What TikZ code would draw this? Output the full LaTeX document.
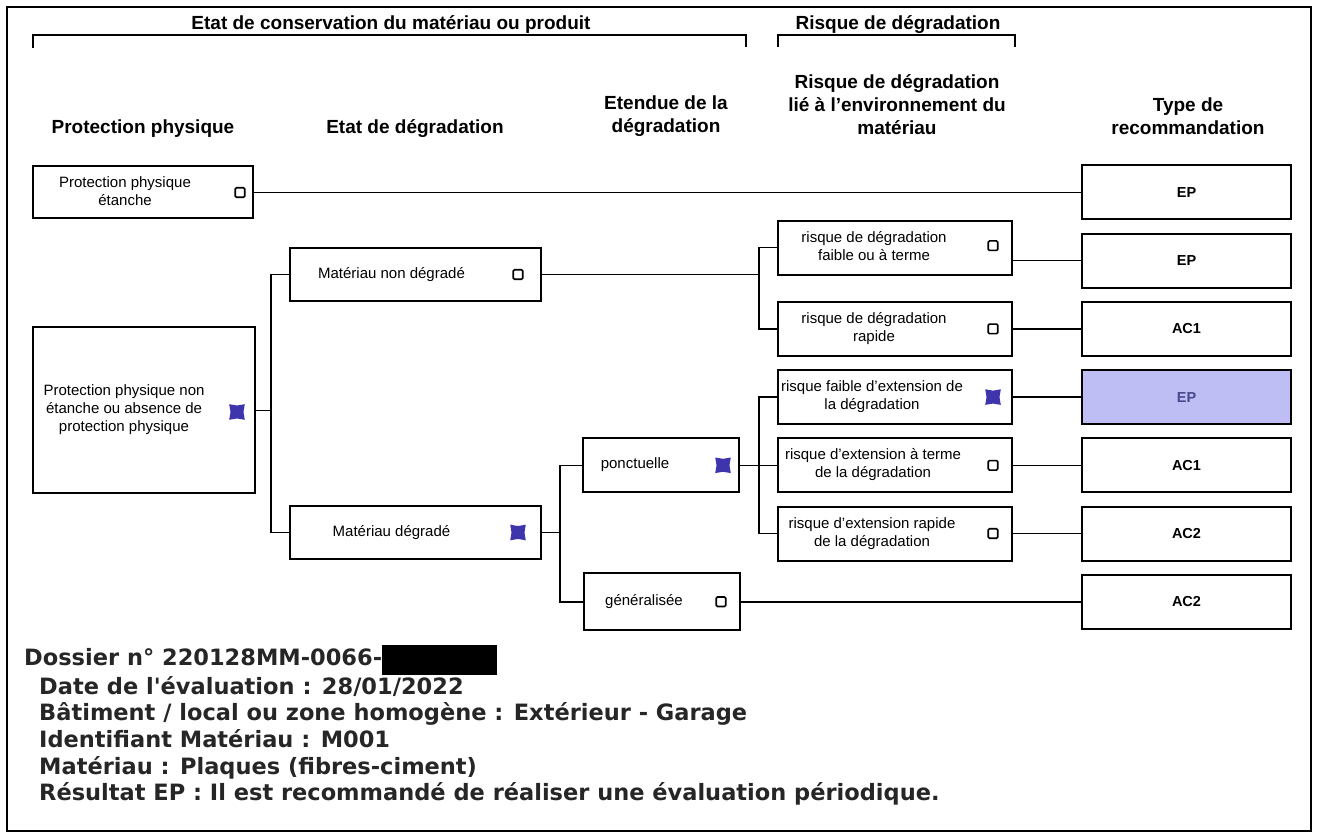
\documentclass[tikz,border=0pt]{standalone}
\usepackage{fontspec}
\setmainfont{Liberation Sans}
\newfontfamily\fichefont{DejaVu Sans}
\usepackage{xcolor}
\usepackage{tikz}
\usetikzlibrary{shapes.geometric,positioning}

\definecolor{coche}{RGB}{62,52,172}
\definecolor{surligne}{RGB}{190,190,245}
\definecolor{pale}{RGB}{72,72,140}
\definecolor{encre}{RGB}{38,38,38}

\newcommand{\optxt}[2][44pt]{\begin{tabular}{@{}c@{}}#2\end{tabular}\hspace*{#1}}

\begin{document}
\begin{tikzpicture}[x=1pt, y=-1pt, node distance=12.2pt]
\tikzset{
titre/.style    = {font=\fontsize{19}{23}\selectfont\bfseries, align=center, inner sep=0pt},
option/.style   = {draw, shape=rectangle, line width=2pt, fill=white, inner sep=0pt, minimum height=54pt, font=\fontsize{15}{18}\selectfont},
risque/.style   = {option, minimum width=234pt},
reco/.style     = {draw, shape=rectangle, line width=2pt, minimum width=209pt, minimum height=54pt, font=\fontsize{14.5}{17}\selectfont\bfseries},
case/.style     = {draw, line width=1.6pt, rounded corners=1.2pt, minimum size=9.5pt, inner sep=0pt},
cochee/.style   = {shape=star, star points=4, star point ratio=1.7, shape border rotate=45, fill=coche, minimum size=22pt, inner sep=0pt},
lien/.style     = {line width=1.6pt},
fin/.style      = {line width=0.8pt},
fiche/.style    = {font=\fichefont\bfseries\fontsize{22.5}{26.6}\selectfont, text=encre, align=left, inner sep=0pt},
}
    \useasboundingbox (0,0) rectangle (1320,834);
    \draw [line width=1.4pt] (7,7) rectangle (1311,831);

    % Group headers
    \node [titre] (conservation) at (391,25) {Etat de conservation du matériau ou produit};
    \node [titre] (degradation)  at (898,25) {Risque de dégradation};
    \draw [lien] (33,48) |- (746,35) -- (746,47);
    \draw [lien] (778,47) |- (1015,35) -- (1015,47);

    % Column headers
    \node [titre] (hprotection) at (143,129)  {Protection physique};
    \node [titre] (hetat)       at (415,129)  {Etat de dégradation};
    \node [titre] (hetendue)    at (666,116)  {Etendue de la\\dégradation};
    \node [titre] (hrisque)     at (897,105)  {Risque de dégradation\\lié à l'environnement du\\matériau};
    \node [titre] (htype)       at (1188,116) {Type de\\recommandation};

    % Recommendations
    \node [reco]                  (recA) at (1186.5,192.5) {EP};
    \node [reco, below=of recA]   (recB) {EP};
    \node [reco, below=of recB]   (recC) {AC1};
    \node [reco, below=of recC, fill=surligne, text=pale] (recD) {EP};
    \node [reco, below=of recD]   (recE) {AC1};
    \node [reco, below=of recE]   (recF) {AC2};
    \node [reco, below=of recF]   (recG) {AC2};

    % Risk boxes
    \node [risque, left=68pt of recB, yshift=13pt] (riskA) {\optxt[42pt]{risque de dégradation\\faible ou à terme}};
    \node [risque, left=68pt of recC] (riskB) {\optxt[42pt]{risque de dégradation\\rapide}};
    \node [risque, left=68pt of recD] (riskC) {\optxt[46pt]{risque faible d'extension de\\la dégradation}};
    \node [risque, left=68pt of recE] (riskD) {\optxt[44pt]{risque d'extension à terme\\de la dégradation}};
    \node [risque, left=68pt of recF] (riskE) {\optxt[46pt]{risque d'extension rapide\\de la dégradation}};

    % Extent
    \node [option, minimum width=156pt, left=37pt of riskD] (ponctuelle) {\optxt[52pt]{ponctuelle}};
    \node [option, minimum width=156pt, minimum height=57pt, left=340pt of recG] (generalisee) {\optxt[36pt]{généralisée}};

    % State and protection
    \node [option, minimum width=251pt, minimum height=53pt] (nondegrade) at (415.5,274.5) {\optxt[48pt]{Matériau non dégradé}};
    \node [option, minimum width=251pt, minimum height=53pt] (degrade)    at (415.5,532.5) {\optxt[48pt]{Matériau dégradé}};
    \node [option, minimum width=220pt, minimum height=52pt] (etanche)    at (143,192.5)   {\optxt[36pt]{Protection physique\\étanche}};
    \node [option, minimum width=222pt, minimum height=166pt] (nonetanche) at (144,410)    {\optxt[40pt]{Protection physique non\\étanche ou absence de\\protection physique}};

    % Check marks
    \node [case]   (etanche-c)     at ([xshift=-14pt]etanche.east) {};
    \node [cochee] (nonetanche-c)  at ([xshift=-19pt,yshift=-2pt]nonetanche.east) {};
    \node [case]   (nondegrade-c)  at ([xshift=-24pt]nondegrade.east) {};
    \node [cochee] (degrade-c)     at ([xshift=-24pt]degrade.east) {};
    \node [cochee] (ponctuelle-c)  at ([xshift=-17pt]ponctuelle.east) {};
    \node [case]   (generalisee-c) at ([xshift=-20pt]generalisee.east) {};
    \node [case]   (riskA-c)       at ([xshift=-20pt,yshift=2pt]riskA.east) {};
    \node [case]   (riskB-c)       at ([xshift=-20pt]riskB.east) {};
    \node [cochee] (riskC-c)       at ([xshift=-20pt]riskC.east) {};
    \node [case]   (riskD-c)       at ([xshift=-20pt]riskD.east) {};
    \node [case]   (riskE-c)       at ([xshift=-20pt]riskE.east) {};

    % Main edges
    \coordinate [left=18pt of nondegrade.west] (j1);
    \coordinate [left=22pt of ponctuelle.west] (j2);
    \coordinate [left=18pt of riskA.west]      (j3);
    \coordinate [left=18pt of riskC.west]      (j4);

    \draw [lien] (etanche) -- (recA);
    \draw [fin]  (nonetanche) -- (nonetanche -| j1);
    \draw [lien] (nondegrade.west) -- (j1) |- (degrade.west);
    \draw [lien] (degrade) -- (degrade -| j2);
    \draw [lien] (ponctuelle.west) -- (j2) |- (generalisee.west);
    \draw [lien] (nondegrade) -- (nondegrade -| j3);
    \draw [lien] (riskA.west) -- (j3) |- (riskB.west);
    \draw [lien] (ponctuelle) -- (ponctuelle -| j4);
    \draw [lien] (riskC.west) -- (j4) |- (riskE.west);
    \draw [lien] (riskD.west) -- (j4 |- riskD);

    \draw [lien] (recB) -- (recB -| riskA.east);
    \draw [lien] (riskB) -- (recC);
    \draw [lien] (riskC) -- (recD);
    \draw [lien] (riskD) -- (recE);
    \draw [lien] (riskE) -- (recF);
    \draw [lien] (generalisee) -- (recG);

    % Record
    \node [fiche, anchor=north west] (dossier) at (24,645) {Dossier n° 220128MM-0066-\textcolor{black}{\rule[-10pt]{115pt}{30pt}}\\
        \hspace*{15pt}Date de l'évaluation : 28/01/2022\\
        \hspace*{15pt}Bâtiment / local ou zone homogène : Extérieur - Garage\\
        \hspace*{15pt}Identifiant Matériau : M001\\
        \hspace*{15pt}Matériau : Plaques (fibres-ciment)\\
        \hspace*{15pt}Résultat EP : Il est recommandé de réaliser une évaluation périodique.};

\end{tikzpicture}
\end{document}
